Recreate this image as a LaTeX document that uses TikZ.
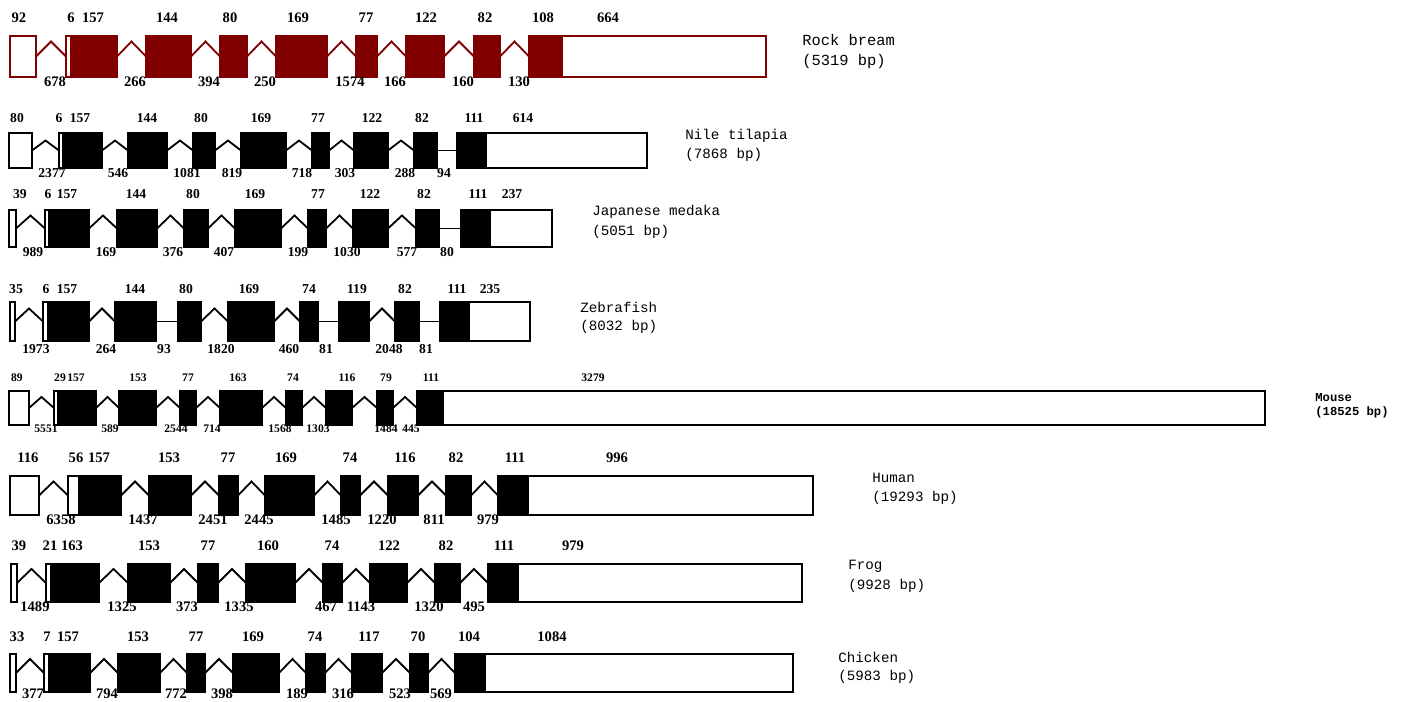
\documentclass[tikz,border=0pt]{standalone}
\usepackage{fontspec}
\setmainfont{Liberation Serif}
\newfontfamily\monof{Liberation Mono}
\usetikzlibrary{calc}
\definecolor{rbred}{HTML}{800000}
\tikzset{
 exn/.style={draw=black, fill=black, line width=0.9pt, inner sep=0pt, outer sep=0pt, anchor=north west},
 utr/.style={draw=black, fill=white, line width=0.9pt, inner sep=0pt, outer sep=0pt, anchor=north west},
 rexn/.style={exn, draw=rbred, fill=rbred},
 rutr/.style={utr, draw=rbred},
 intr/.style={draw=black, line width=0.9pt},
 rintr/.style={intr, draw=rbred},
 num/.style={inner sep=0pt, font=\bfseries\fontsize{7.3}{9}\selectfont},
 numS/.style={inner sep=0pt, font=\bfseries\fontsize{6.8}{8}\selectfont},
 numM/.style={inner sep=0pt, font=\bfseries\fontsize{5.8}{7}\selectfont},
 spc/.style={anchor=west, inner sep=0pt, font=\monof\fontsize{7.7}{9}\selectfont},
 spcS/.style={anchor=west, inner sep=0pt, font=\monof\fontsize{7.1}{8}\selectfont},
 spcM/.style={anchor=west, inner sep=0pt, font=\monof\bfseries\fontsize{6.1}{7}\selectfont},
}
\newcommand\rowtb[3]{\def\rT{#1}\def\rB{#2}\def\rH{#3}}
\newcommand\ex[4]{\node[#4, minimum width={(#3-#2)*0.5pt}, minimum height={(\rB-\rT)*0.5pt}] (#1) at (#2,\rT) {};}
\newcommand\zz[3][intr]{\draw[#1] (#2.east) -- ($(#2.east)!.5!(#3.west)+(0,-\rH)$) -- (#3.west);}
\newcommand\fl[2]{\draw[intr] (#1.east) -- (#2.west);}
\newcommand\lb[5][num]{\node[#1] (#2) at (#3,#4) {#5};}
\begin{document}
\begin{tikzpicture}[x=0.5pt,y=-0.5pt]
\useasboundingbox[fill=white] (0,0) rectangle (1405,702);
% ---------------- Rock bream
\rowtb{36}{77}{15}
\ex{a1}{10}{36}{rutr}
\ex{a2}{66}{71}{rutr}
\ex{a3}{71}{117}{rexn}
\ex{a4}{146}{191}{rexn}
\ex{a5}{220}{247}{rexn}
\ex{a6}{276}{327}{rexn}
\ex{a7}{356}{377}{rexn}
\ex{a8}{406}{444}{rexn}
\ex{a9}{474}{500}{rexn}
\ex{a10}{529}{562}{rexn}
\ex{a11}{562}{766}{rutr}
\zz[rintr]{a1}{a2}\zz[rintr]{a3}{a4}\zz[rintr]{a4}{a5}\zz[rintr]{a5}{a6}
\zz[rintr]{a6}{a7}\zz[rintr]{a7}{a8}\zz[rintr]{a8}{a9}\zz[rintr]{a9}{a10}
\lb{ta1}{19}{18}{92}\lb{ta2}{71}{18}{6}\lb{ta3}{93}{18}{157}\lb{ta4}{167}{18}{144}
\lb{ta5}{230}{18}{80}\lb{ta6}{298}{18}{169}\lb{ta7}{366}{18}{77}\lb{ta8}{426}{18}{122}
\lb{ta9}{485}{18}{82}\lb{ta10}{543}{18}{108}\lb{ta11}{608}{18}{664}
\lb{ba1}{55}{82}{678}\lb{ba2}{135}{82}{266}\lb{ba3}{209}{82}{394}\lb{ba4}{265}{82}{250}
\lb{ba5}{350}{82}{1574}\lb{ba6}{395}{82}{166}\lb{ba7}{463}{82}{160}\lb{ba8}{519}{82}{130}
\node[spc] (sa1) at (802,40) {Rock bream};
\node[spc] (sa2) at (802,62) {(5319 bp)};
% ---------------- Nile tilapia
\rowtb{133}{168}{10}
\ex{b1}{9}{32}{utr}
\ex{b2}{59}{63}{utr}
\ex{b3}{63}{102}{exn}
\ex{b4}{128}{167}{exn}
\ex{b5}{193}{215}{exn}
\ex{b6}{241}{286}{exn}
\ex{b7}{312}{329}{exn}
\ex{b8}{354}{388}{exn}
\ex{b9}{414}{437}{exn}
\ex{b10}{457}{486}{exn}
\ex{b11}{486}{647}{utr}
\zz{b1}{b2}\zz{b3}{b4}\zz{b4}{b5}\zz{b5}{b6}\zz{b6}{b7}\zz{b7}{b8}\zz{b8}{b9}\fl{b9}{b10}
\lb[numS]{tb1}{17}{118}{80}\lb[numS]{tb2}{59}{118}{6}\lb[numS]{tb3}{80}{118}{157}\lb[numS]{tb4}{147}{118}{144}
\lb[numS]{tb5}{201}{118}{80}\lb[numS]{tb6}{261}{118}{169}\lb[numS]{tb7}{318}{118}{77}\lb[numS]{tb8}{372}{118}{122}
\lb[numS]{tb9}{422}{118}{82}\lb[numS]{tb10}{474}{118}{111}\lb[numS]{tb11}{523}{118}{614}
\lb[numS]{bb1}{52}{173}{2377}\lb[numS]{bb2}{118}{173}{546}\lb[numS]{bb3}{187}{173}{1081}\lb[numS]{bb4}{232}{173}{819}
\lb[numS]{bb5}{302}{173}{718}\lb[numS]{bb6}{345}{173}{303}\lb[numS]{bb7}{405}{173}{288}\lb[numS]{bb8}{444}{173}{94}
\node[spcS] (sb1) at (685,136) {Nile tilapia};
\node[spcS] (sb2) at (685,155) {(7868 bp)};
% ---------------- Japanese medaka
\rowtb{210}{247}{13}
\ex{c1}{9}{16}{utr}
\ex{c2}{45}{49}{utr}
\ex{c3}{49}{89}{exn}
\ex{c4}{117}{157}{exn}
\ex{c5}{184}{208}{exn}
\ex{c6}{235}{281}{exn}
\ex{c7}{308}{326}{exn}
\ex{c8}{353}{388}{exn}
\ex{c9}{416}{439}{exn}
\ex{c10}{461}{490}{exn}
\ex{c11}{490}{552}{utr}
\zz{c1}{c2}\zz{c3}{c4}\zz{c4}{c5}\zz{c5}{c6}\zz{c6}{c7}\zz{c7}{c8}\zz{c8}{c9}\fl{c9}{c10}
\lb[numS]{tc1}{20}{194}{39}\lb[numS]{tc2}{48}{194}{6}\lb[numS]{tc3}{67}{194}{157}\lb[numS]{tc4}{136}{194}{144}
\lb[numS]{tc5}{193}{194}{80}\lb[numS]{tc6}{255}{194}{169}\lb[numS]{tc7}{318}{194}{77}\lb[numS]{tc8}{370}{194}{122}
\lb[numS]{tc9}{424}{194}{82}\lb[numS]{tc10}{478}{194}{111}\lb[numS]{tc11}{512}{194}{237}
\lb[numS]{bc1}{33}{252}{989}\lb[numS]{bc2}{106}{252}{169}\lb[numS]{bc3}{173}{252}{376}\lb[numS]{bc4}{224}{252}{407}
\lb[numS]{bc5}{298}{252}{199}\lb[numS]{bc6}{347}{252}{1030}\lb[numS]{bc7}{407}{252}{577}\lb[numS]{bc8}{447}{252}{80}
\node[spcS] (sc1) at (592,212) {Japanese medaka};
\node[spcS] (sc2) at (592,232) {(5051 bp)};
% ---------------- Zebrafish
\rowtb{302}{341}{13}
\ex{d1}{10}{15}{utr}
\ex{d2}{43}{48}{utr}
\ex{d3}{48}{89}{exn}
\ex{d4}{115}{156}{exn}
\ex{d5}{178}{201}{exn}
\ex{d6}{228}{274}{exn}
\ex{d7}{300}{318}{exn}
\ex{d8}{339}{369}{exn}
\ex{d9}{395}{419}{exn}
\ex{d10}{440}{469}{exn}
\ex{d11}{469}{530}{utr}
\zz{d1}{d2}\zz{d3}{d4}\fl{d4}{d5}\zz{d5}{d6}\zz{d6}{d7}\fl{d7}{d8}\zz{d8}{d9}\fl{d9}{d10}
\lb[numS]{td1}{16}{289}{35}\lb[numS]{td2}{46}{289}{6}\lb[numS]{td3}{67}{289}{157}\lb[numS]{td4}{135}{289}{144}
\lb[numS]{td5}{186}{289}{80}\lb[numS]{td6}{249}{289}{169}\lb[numS]{td7}{309}{289}{74}\lb[numS]{td8}{357}{289}{119}
\lb[numS]{td9}{405}{289}{82}\lb[numS]{td10}{457}{289}{111}\lb[numS]{td11}{490}{289}{235}
\lb[numS]{bd1}{36}{349}{1973}\lb[numS]{bd2}{106}{349}{264}\lb[numS]{bd3}{164}{349}{93}\lb[numS]{bd4}{221}{349}{1820}
\lb[numS]{bd5}{289}{349}{460}\lb[numS]{bd6}{326}{349}{81}\lb[numS]{bd7}{389}{349}{2048}\lb[numS]{bd8}{426}{349}{81}
\node[spcS] (sd1) at (580,307) {Zebrafish};
\node[spcS] (sd2) at (580,327) {(8032 bp)};
% ---------------- Mouse
\rowtb{391}{425}{11}
\ex{e1}{9}{29}{utr}
\ex{e2}{54}{58}{utr}
\ex{e3}{58}{96}{exn}
\ex{e4}{119}{156}{exn}
\ex{e5}{180}{196}{exn}
\ex{e6}{220}{262}{exn}
\ex{e7}{286}{302}{exn}
\ex{e8}{326}{352}{exn}
\ex{e9}{377}{393}{exn}
\ex{e10}{417}{443}{exn}
\ex{e11}{443}{1265}{utr}
\zz{e1}{e2}\zz{e3}{e4}\zz{e4}{e5}\zz{e5}{e6}\zz{e6}{e7}\zz{e7}{e8}\zz{e8}{e9}\zz{e9}{e10}
\lb[numM]{te1}{17}{378}{89}\lb[numM]{te2}{60}{378}{29}\lb[numM]{te3}{76}{378}{157}\lb[numM]{te4}{138}{378}{153}
\lb[numM]{te5}{188}{378}{77}\lb[numM]{te6}{238}{378}{163}\lb[numM]{te7}{293}{378}{74}\lb[numM]{te8}{347}{378}{116}
\lb[numM]{te9}{386}{378}{79}\lb[numM]{te10}{431}{378}{111}\lb[numM]{te11}{593}{378}{3279}
\lb[numM]{be1}{46}{429}{5551}\lb[numM]{be2}{110}{429}{589}\lb[numM]{be3}{176}{429}{2544}\lb[numM]{be4}{212}{429}{714}
\lb[numM]{be5}{280}{429}{1568}\lb[numM]{be6}{318}{429}{1303}\lb[numM]{be7}{386}{429}{1484}\lb[numM]{be8}{411}{429}{445}
\node[spcM] (se1) at (1315,398) {Mouse};
\node[spcM] (se2) at (1315,412) {(18525 bp)};
% ---------------- Human
\rowtb{476}{515}{14}
\ex{f1}{10}{39}{utr}
\ex{f2}{68}{79}{utr}
\ex{f3}{79}{121}{exn}
\ex{f4}{149}{191}{exn}
\ex{f5}{219}{238}{exn}
\ex{f6}{265}{314}{exn}
\ex{f7}{341}{360}{exn}
\ex{f8}{388}{418}{exn}
\ex{f9}{446}{471}{exn}
\ex{f10}{498}{528}{exn}
\ex{f11}{528}{813}{utr}
\zz{f1}{f2}\zz{f3}{f4}\zz{f4}{f5}\zz{f5}{f6}\zz{f6}{f7}\zz{f7}{f8}\zz{f8}{f9}\zz{f9}{f10}
\lb{tf1}{28}{458}{116}\lb{tf2}{76}{458}{56}\lb{tf3}{99}{458}{157}\lb{tf4}{169}{458}{153}
\lb{tf5}{228}{458}{77}\lb{tf6}{286}{458}{169}\lb{tf7}{350}{458}{74}\lb{tf8}{405}{458}{116}
\lb{tf9}{456}{458}{82}\lb{tf10}{515}{458}{111}\lb{tf11}{617}{458}{996}
\lb{bf1}{61}{520}{6358}\lb{bf2}{143}{520}{1437}\lb{bf3}{213}{520}{2451}\lb{bf4}{259}{520}{2445}
\lb{bf5}{336}{520}{1485}\lb{bf6}{382}{520}{1220}\lb{bf7}{434}{520}{811}\lb{bf8}{488}{520}{979}
\node[spcS] (sf1) at (872,478) {Human};
\node[spcS] (sf2) at (872,498) {(19293 bp)};
% ---------------- Frog
\rowtb{564}{602}{14}
\ex{g1}{11}{17}{utr}
\ex{g2}{46}{51}{utr}
\ex{g3}{51}{99}{exn}
\ex{g4}{128}{170}{exn}
\ex{g5}{198}{218}{exn}
\ex{g6}{246}{295}{exn}
\ex{g7}{323}{342}{exn}
\ex{g8}{370}{407}{exn}
\ex{g9}{435}{460}{exn}
\ex{g10}{488}{518}{exn}
\ex{g11}{518}{802}{utr}
\zz{g1}{g2}\zz{g3}{g4}\zz{g4}{g5}\zz{g5}{g6}\zz{g6}{g7}\zz{g7}{g8}\zz{g8}{g9}\zz{g9}{g10}
\lb{tg1}{19}{546}{39}\lb{tg2}{50}{546}{21}\lb{tg3}{72}{546}{163}\lb{tg4}{149}{546}{153}
\lb{tg5}{208}{546}{77}\lb{tg6}{268}{546}{160}\lb{tg7}{332}{546}{74}\lb{tg8}{389}{546}{122}
\lb{tg9}{446}{546}{82}\lb{tg10}{504}{546}{111}\lb{tg11}{573}{546}{979}
\lb{bg1}{35}{607}{1489}\lb{bg2}{122}{607}{1325}\lb{bg3}{187}{607}{373}\lb{bg4}{239}{607}{1335}
\lb{bg5}{326}{607}{467}\lb{bg6}{361}{607}{1143}\lb{bg7}{429}{607}{1320}\lb{bg8}{474}{607}{495}
\node[spcS] (sg1) at (848,566) {Frog};
\node[spcS] (sg2) at (848,586) {(9928 bp)};
% ---------------- Chicken
\rowtb{654}{692}{14}
\ex{h1}{10}{16}{utr}
\ex{h2}{44}{49}{utr}
\ex{h3}{49}{90}{exn}
\ex{h4}{118}{160}{exn}
\ex{h5}{187}{205}{exn}
\ex{h6}{233}{279}{exn}
\ex{h7}{306}{325}{exn}
\ex{h8}{352}{382}{exn}
\ex{h9}{410}{428}{exn}
\ex{h10}{455}{485}{exn}
\ex{h11}{485}{793}{utr}
\zz{h1}{h2}\zz{h3}{h4}\zz{h4}{h5}\zz{h5}{h6}\zz{h6}{h7}\zz{h7}{h8}\zz{h8}{h9}\zz{h9}{h10}
\lb{th1}{17}{637}{33}\lb{th2}{47}{637}{7}\lb{th3}{68}{637}{157}\lb{th4}{138}{637}{153}
\lb{th5}{196}{637}{77}\lb{th6}{253}{637}{169}\lb{th7}{315}{637}{74}\lb{th8}{369}{637}{117}
\lb{th9}{418}{637}{70}\lb{th10}{469}{637}{104}\lb{th11}{552}{637}{1084}
\lb{bh1}{33}{694}{377}\lb{bh2}{107}{694}{794}\lb{bh3}{176}{694}{772}\lb{bh4}{222}{694}{398}
\lb{bh5}{297}{694}{189}\lb{bh6}{343}{694}{316}\lb{bh7}{400}{694}{523}\lb{bh8}{441}{694}{569}
\node[spcS] (sh1) at (838,657) {Chicken};
\node[spcS] (sh2) at (838,677) {(5983 bp)};
\end{tikzpicture}
\end{document}
